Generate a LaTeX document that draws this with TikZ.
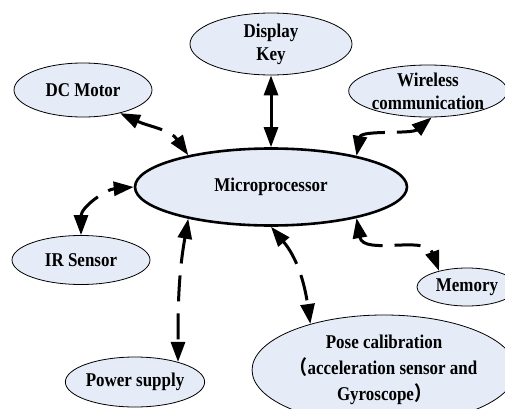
\documentclass[tikz,border=0pt]{standalone}
\usepackage{fontspec}
\setmainfont{Liberation Serif}[FakeStretch=0.87]
\newfontfamily\cjk{Noto Sans CJK SC}[FakeStretch=0.87]
\usepackage{xcolor}
\definecolor{bubblefill}{RGB}{230,236,247}
\usepackage{tikz}
\usetikzlibrary{shapes.geometric,arrows.meta}

\begin{document}
\begin{tikzpicture}[
  x=1pt, y=1pt,
  font=\bfseries\fontsize{19.5}{23}\selectfont,
  bubble/.style={ellipse, draw=black, line width=0.8pt, fill=bubblefill,
                 inner sep=0pt, align=center},
  link/.style={{Triangle[length=20pt,width=14pt]}-{Triangle[length=20pt,width=14pt]},
               line width=3pt},
  dlink/.style={link, dash pattern=on 26pt off 12pt}
]
\useasboundingbox (0,0) rectangle (505,408);

%% Central unit
\node[bubble, line width=2.6pt, minimum width=272pt, minimum height=77pt]
      (mp) at (271,221) {Microprocessor};

%% Peripherals
\node[bubble, minimum width=162pt, minimum height=62pt] (disp) at (271,364) {Display\\Key};
\node[bubble, minimum width=138pt, minimum height=54pt] (dc) at (83,318) {DC Motor};
\node[bubble, minimum width=154pt, minimum height=52pt] (wl) at (428,317) {Wireless\\communication};
\node[bubble, minimum width=138pt, minimum height=49pt] (ir) at (81,148) {IR Sensor};
\node[bubble, minimum width=137pt, minimum height=50pt] (pw) at (135,26) {Power supply};
\node[bubble, minimum width=100pt, minimum height=38pt] (mem) at (467,121) {Memory};
\node[bubble, minimum width=226pt, minimum height=110pt, font=\bfseries\fontsize{19.5}{26}\selectfont]
      (pose) at (384,38) {Pose calibration\\{\cjk （}acceleration sensor and\\Gyroscope{\cjk ）}};

%% Links
\draw[link] (disp.south) -- (mp.north);
\draw[dlink] (dc.-32) to[out=-25,in=125] (mp.159);
\draw[dlink] (mp.20) to[out=80,in=220,looseness=0.8] (wl.-82);
\draw[dlink] (ir.north) to[out=90,in=185] (mp.west);
\draw[dlink] (mp.201) to[out=-100,in=90] (pw.25);
\draw[dlink] (mp.south) to[out=-50,in=98] (pose.148);
\draw[dlink] (mp.-20) to[out=-80,in=110] (mem.150);

\end{tikzpicture}
\end{document}
